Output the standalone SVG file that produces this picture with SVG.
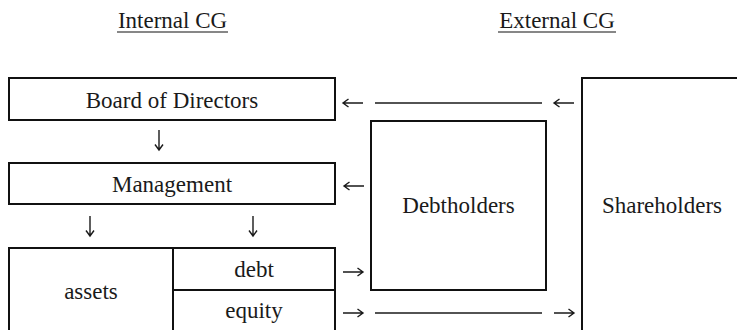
<svg xmlns="http://www.w3.org/2000/svg" xmlns:xlink="http://www.w3.org/1999/xlink" width="737" height="330" viewBox="0 0 737 330">
<style>
text{font-family:"Liberation Serif","Times New Roman",serif;font-size:23px;fill:#1a1a1a}
.c{text-anchor:middle}
.box{fill:none;stroke:#111;stroke-width:2}
.ar{fill:none;stroke:#1a1a1a;stroke-width:1.4;stroke-linejoin:miter}
.dash{stroke:#1a1a1a;stroke-width:1.3}
</style>
<defs>
<path id="arR" class="ar" d="M0,0 H20 M14.5,-4 L20,0 L14.5,4"/>
</defs>
<rect width="737" height="330" fill="#fff"/>
<g id="titles">
<text class="c" x="172.5" y="28">Internal CG</text>
<line x1="117" y1="32" x2="228" y2="32" stroke="#111" stroke-width="1.2"/>
<text class="c" x="557" y="28">External CG</text>
<line x1="498" y1="32" x2="616" y2="32" stroke="#111" stroke-width="1.2"/>
</g>
<g id="board">
<rect class="box" x="9" y="78" width="326" height="42"/>
<text class="c" x="172" y="108">Board of Directors</text>
</g>
<g id="management">
<rect class="box" x="9" y="163" width="326" height="41"/>
<text class="c" x="172" y="192">Management</text>
</g>
<g id="assets">
<rect class="box" x="9" y="248" width="164" height="90"/>
<text class="c" x="91" y="299">assets</text>
</g>
<g id="debt">
<rect class="box" x="173" y="248" width="162" height="42"/>
<text class="c" x="254" y="277">debt</text>
</g>
<g id="equity">
<rect class="box" x="173" y="290" width="162" height="48"/>
<text class="c" x="254" y="318">equity</text>
</g>
<g id="debtholders">
<rect class="box" x="371" y="121" width="175" height="169"/>
<text class="c" x="458.5" y="213">Debtholders</text>
</g>
<g id="shareholders">
<rect class="box" x="582" y="78" width="170" height="270"/>
<text class="c" x="662" y="213">Shareholders</text>
</g>
<g id="connectors">
<use xlink:href="#arR" transform="translate(159,130) rotate(90)"/>
<use xlink:href="#arR" transform="translate(90,216) rotate(90)"/>
<use xlink:href="#arR" transform="translate(253,216) rotate(90)"/>
<use xlink:href="#arR" transform="translate(363,103) rotate(180)"/>
<line class="dash" x1="375" y1="103" x2="542" y2="103"/>
<use xlink:href="#arR" transform="translate(574,103) rotate(180)"/>
<use xlink:href="#arR" transform="translate(364,186) rotate(180)"/>
<use xlink:href="#arR" transform="translate(343,272)"/>
<use xlink:href="#arR" transform="translate(343,313)"/>
<line class="dash" x1="375" y1="313" x2="542" y2="313"/>
<use xlink:href="#arR" transform="translate(554,313)"/>
</g>
</svg>
